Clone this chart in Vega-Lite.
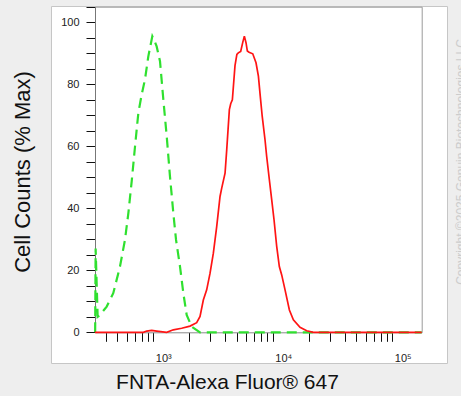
{
  "$schema": "https://vega.github.io/schema/vega-lite/v6.json",
  "width": 396,
  "height": 357,
  "autosize": "none",
  "padding": {"left": 51, "top": 6, "right": 14, "bottom": 33},
  "background": "#eeeeee",
  "config": {
    "view": {"fill": "white", "stroke": "#c6c6c6", "strokeWidth": 1},
    "axis": {"labelFont": "Liberation Sans", "titleFont": "Liberation Sans", "titleFontWeight": "normal", "grid": false, "zindex": 1, "labelOverlap": false, "labelFlush": false}
  },
  "datasets": {
    "curves": [
      {"series": "control", "x": 326, "y": 0},
      {"series": "control", "x": 329, "y": 27},
      {"series": "control", "x": 342, "y": 5},
      {"series": "control", "x": 358, "y": 5.6},
      {"series": "control", "x": 407, "y": 8.3},
      {"series": "control", "x": 462, "y": 12.6},
      {"series": "control", "x": 526, "y": 21.2},
      {"series": "control", "x": 579, "y": 29.8},
      {"series": "control", "x": 618, "y": 38.4},
      {"series": "control", "x": 659, "y": 48.7},
      {"series": "control", "x": 703, "y": 60},
      {"series": "control", "x": 749, "y": 70.7},
      {"series": "control", "x": 798, "y": 76.6},
      {"series": "control", "x": 851, "y": 81.5},
      {"series": "control", "x": 908, "y": 89},
      {"series": "control", "x": 981, "y": 95.5},
      {"series": "control", "x": 1013, "y": 94.4},
      {"series": "control", "x": 1066, "y": 92.2},
      {"series": "control", "x": 1137, "y": 87.4},
      {"series": "control", "x": 1213, "y": 75},
      {"series": "control", "x": 1294, "y": 63.2},
      {"series": "control", "x": 1378, "y": 50.3},
      {"series": "control", "x": 1470, "y": 38.4},
      {"series": "control", "x": 1549, "y": 29.8},
      {"series": "control", "x": 1672, "y": 21.2},
      {"series": "control", "x": 1783, "y": 12.6},
      {"series": "control", "x": 1901, "y": 5.6},
      {"series": "control", "x": 2094, "y": 1.8},
      {"series": "control", "x": 2459, "y": 0},
      {"series": "control", "x": 5000, "y": 0},
      {"series": "control", "x": 20000, "y": 0},
      {"series": "control", "x": 176000, "y": 0},
      {"series": "sample", "x": 325, "y": 0},
      {"series": "sample", "x": 825, "y": 0},
      {"series": "sample", "x": 880, "y": 0.4},
      {"series": "sample", "x": 969, "y": 0.6},
      {"series": "sample", "x": 1066, "y": 0.4},
      {"series": "sample", "x": 1294, "y": 0},
      {"series": "sample", "x": 1470, "y": 0.8},
      {"series": "sample", "x": 1726, "y": 1.3},
      {"series": "sample", "x": 2027, "y": 2.0},
      {"series": "sample", "x": 2305, "y": 3.1},
      {"series": "sample", "x": 2459, "y": 5.1},
      {"series": "sample", "x": 2620, "y": 10.4},
      {"series": "sample", "x": 2795, "y": 13.7},
      {"series": "sample", "x": 2980, "y": 19.0},
      {"series": "sample", "x": 3178, "y": 25.5},
      {"series": "sample", "x": 3390, "y": 34.1},
      {"series": "sample", "x": 3615, "y": 43.8},
      {"series": "sample", "x": 3734, "y": 46.5},
      {"series": "sample", "x": 3982, "y": 51.3},
      {"series": "sample", "x": 4113, "y": 58.9},
      {"series": "sample", "x": 4327, "y": 71.8},
      {"series": "sample", "x": 4440, "y": 73.7},
      {"series": "sample", "x": 4584, "y": 75},
      {"series": "sample", "x": 4823, "y": 86},
      {"series": "sample", "x": 5000, "y": 89.6},
      {"series": "sample", "x": 5140, "y": 90.1},
      {"series": "sample", "x": 5382, "y": 90.6},
      {"series": "sample", "x": 5594, "y": 93.4},
      {"series": "sample", "x": 5775, "y": 95.5},
      {"series": "sample", "x": 5962, "y": 93.4},
      {"series": "sample", "x": 6118, "y": 90.7},
      {"series": "sample", "x": 6320, "y": 90.3},
      {"series": "sample", "x": 6790, "y": 89.8},
      {"series": "sample", "x": 7230, "y": 86.9},
      {"series": "sample", "x": 7570, "y": 82.6},
      {"series": "sample", "x": 7850, "y": 76.1},
      {"series": "sample", "x": 8150, "y": 69.6},
      {"series": "sample", "x": 8600, "y": 62.1},
      {"series": "sample", "x": 8880, "y": 56.7},
      {"series": "sample", "x": 9350, "y": 49.2},
      {"series": "sample", "x": 9780, "y": 42.8},
      {"series": "sample", "x": 10230, "y": 36.3},
      {"series": "sample", "x": 10770, "y": 27.7},
      {"series": "sample", "x": 11330, "y": 21.2},
      {"series": "sample", "x": 11860, "y": 18.5},
      {"series": "sample", "x": 12650, "y": 13.7},
      {"series": "sample", "x": 13750, "y": 7.2},
      {"series": "sample", "x": 14850, "y": 4.0},
      {"series": "sample", "x": 16880, "y": 1.6},
      {"series": "sample", "x": 19190, "y": 0.5},
      {"series": "sample", "x": 21830, "y": 0},
      {"series": "sample", "x": 176000, "y": 0}
    ]
  },
  "data": {"name": "curves"},
  "layer": [
    {
      "transform": [{"filter": "datum.series == 'control'"}],
      "mark": {"type": "line", "stroke": "#2fe02f", "strokeWidth": 2.2, "strokeDash": [10, 6], "clip": true},
      "encoding": {
        "x": {
          "field": "x", "type": "quantitative",
          "scale": {"type": "log", "domain": [325, 176000], "range": [44, 370.7], "nice": false},
          "axis": {
            "orient": "bottom", "offset": -30.7,
            "values": [400, 500, 600, 700, 800, 900, 1000, 2000, 3000, 4000, 5000, 6000, 7000, 8000, 9000, 10000, 20000, 30000, 40000, 50000, 60000, 70000, 80000, 90000, 100000],
            "domainColor": "#8a8a8a", "domainWidth": 1,
            "ticks": true, "tickColor": "#111111", "tickSize": 9, "tickWidth": 1,
            "encode": {
              "ticks": {
                "enter": {"y2": {"signal": "(datum.value == 1000 || datum.value == 10000 || datum.value == 100000) ? 9 : 4"}},
                "update": {
                  "y2": {"signal": "(datum.value == 1000 || datum.value == 10000 || datum.value == 100000) ? 9 : 4"},
                  "strokeWidth": {"signal": "(datum.value == 1000 || datum.value == 10000 || datum.value == 100000) ? 2 : 1"}
                }
              }
            },
            "labelExpr": "datum.value == 1000 ? '10³' : datum.value == 10000 ? '10⁴' : datum.value == 100000 ? '10⁵' : ''",
            "labelAlign": "left", "labelOffset": 2, "labelBaseline": "alphabetic", "labelPadding": 20,
            "labelFontSize": 11, "labelColor": "#222222",
            "title": "FNTA-Alexa Fluor® 647",
            "titleX": 176, "titleY": 55.7, "titleAlign": "center", "titleBaseline": "alphabetic",
            "titleFontSize": 21, "titleColor": "#111111"
          }
        },
        "y": {
          "field": "y", "type": "quantitative",
          "scale": {"domain": [0, 105], "range": [326.3, 0.7], "nice": false},
          "axis": {
            "orient": "left", "offset": -44,
            "values": [0, 5, 10, 15, 20, 25, 30, 35, 40, 45, 50, 55, 60, 65, 70, 75, 80, 85, 90, 95, 100, 105],
            "domainColor": "#777777", "domainWidth": 1,
            "ticks": true, "tickColor": "#111111", "tickSize": 9, "tickWidth": 1,
            "encode": {
              "ticks": {
                "enter": {"x2": {"signal": "datum.value % 20 == 0 ? -9 : -4"}},
                "update": {
                  "x2": {"signal": "datum.value % 20 == 0 ? -9 : -4"},
                  "strokeWidth": {"signal": "datum.value % 20 == 0 ? 2 : 1"}
                }
              }
            },
            "labelExpr": "datum.value % 20 == 0 ? datum.label : ''",
            "labelPadding": 7, "labelFontSize": 11, "labelColor": "#222222", "labelBaseline": "middle",
            "title": "Cell Counts (% Max)",
            "titleX": -65.7, "titleY": 165.5, "titleAngle": 270, "titleAlign": "center", "titleBaseline": "alphabetic",
            "titleFontSize": 22, "titleColor": "#111111"
          }
        }
      }
    },
    {
      "transform": [{"filter": "datum.series == 'sample'"}],
      "mark": {"type": "line", "stroke": "#ff1414", "strokeWidth": 1.7, "clip": true},
      "encoding": {
        "x": {
          "field": "x", "type": "quantitative",
          "scale": {"type": "log", "domain": [325, 176000], "range": [44, 370.7], "nice": false},
          "axis": {"orient": "top", "offset": -0.7, "ticks": false, "labels": false, "domainColor": "#9a9a9a", "title": null}
        },
        "y": {
          "field": "y", "type": "quantitative",
          "scale": {"domain": [0, 105], "range": [326.3, 0.7], "nice": false},
          "axis": {
            "orient": "right", "offset": -25.3, "ticks": false, "labels": false, "domainColor": "#9a9a9a",
            "title": "Copyright ©2025 Genuin Biotechnologies LLC",
            "titleX": 43, "titleY": 155.5, "titleAngle": 270, "titleAlign": "center", "titleBaseline": "alphabetic",
            "titleFontSize": 12, "titleColor": "#cccccc"
          }
        }
      }
    }
  ],
  "resolve": {"axis": {"x": "independent", "y": "independent"}}
}
